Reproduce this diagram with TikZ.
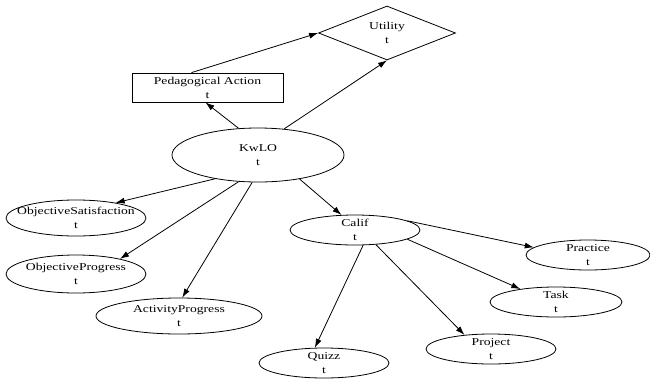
\documentclass[tikz,border=0pt]{standalone}
\usepackage{fontspec}
\setmainfont{Liberation Serif}[FakeStretch=1.3]
\usetikzlibrary{shapes.geometric,arrows.meta}

\begin{document}
\begin{tikzpicture}[x=1pt,y=-1pt,
  every node/.style={font=\fontsize{10.5}{14}\selectfont},
  ell/.style={draw, ellipse, inner sep=0pt, line width=0.8pt},
  txt/.style={align=center, inner sep=0pt},
  conn/.style={-{Latex[length=9pt,width=6pt]}, line width=0.8pt}]
\useasboundingbox (0,0) rectangle (650,378);

% decision and utility nodes
\node[draw, diamond, inner sep=0pt, minimum width=137pt, minimum height=54pt, line width=0.8pt,
      label={[txt]center:{Utility\\t}}] (ut) at (387,33) {};
\node[draw, rectangle, inner sep=0pt, minimum width=151pt, minimum height=29pt, line width=0.8pt,
      align=center] (pa) at (207.5,87.5) {Pedagogical Action\\t};

% chance nodes
\node[ell, minimum width=172pt, minimum height=54pt, label={[txt]center:{KwLO\\t}}] (kw) at (258,155) {};
\node[ell, minimum width=140pt, minimum height=36pt, label={[txt]center:{ObjectiveSatisfaction\\t}}] (os) at (76,218) {};
\node[ell, minimum width=140pt, minimum height=38pt, label={[txt]center:{ObjectiveProgress\\t}}] (op) at (76,274) {};
\node[ell, minimum width=166pt, minimum height=36pt, label={[txt]center:{ActivityProgress\\t}}] (ap) at (179,316) {};
\node[ell, minimum width=130pt, minimum height=30pt, label={[txt]center:{Calif\\t}}] (ca) at (355,230) {};
\node[ell, minimum width=124pt, minimum height=30pt, label={[txt]center:{Practice\\t}}] (pr) at (588,255) {};
\node[ell, minimum width=132pt, minimum height=30pt, label={[txt]center:{Task\\t}}] (ta) at (556,302) {};
\node[ell, minimum width=130pt, minimum height=30pt, label={[txt]center:{Project\\t}}] (pj) at (491,349) {};
\node[ell, minimum width=130pt, minimum height=30pt, label={[txt]center:{Quizz\\t}}] (qz) at (324,363) {};

% connectors
\draw[conn] (pa.137) -- (ut.west);
\draw[conn] (kw.45) -- (ut.south);
\draw[conn] (kw.126) -- (pa.262);
\draw[conn] (kw.209) -- (os.21);
\draw[conn] (kw.234) -- (op.19);
\draw[conn] (kw.258) -- (ap.80);
\draw[conn] (kw.330) -- (ca.132);
\draw[conn] (ca.10) -- (pr.172);
\draw[conn] (ca.350) -- (ta.160);
\draw[conn] (ca.325) -- (pj.152);
\draw[conn] (ca.298) -- (qz.121);
\end{tikzpicture}
\end{document}
